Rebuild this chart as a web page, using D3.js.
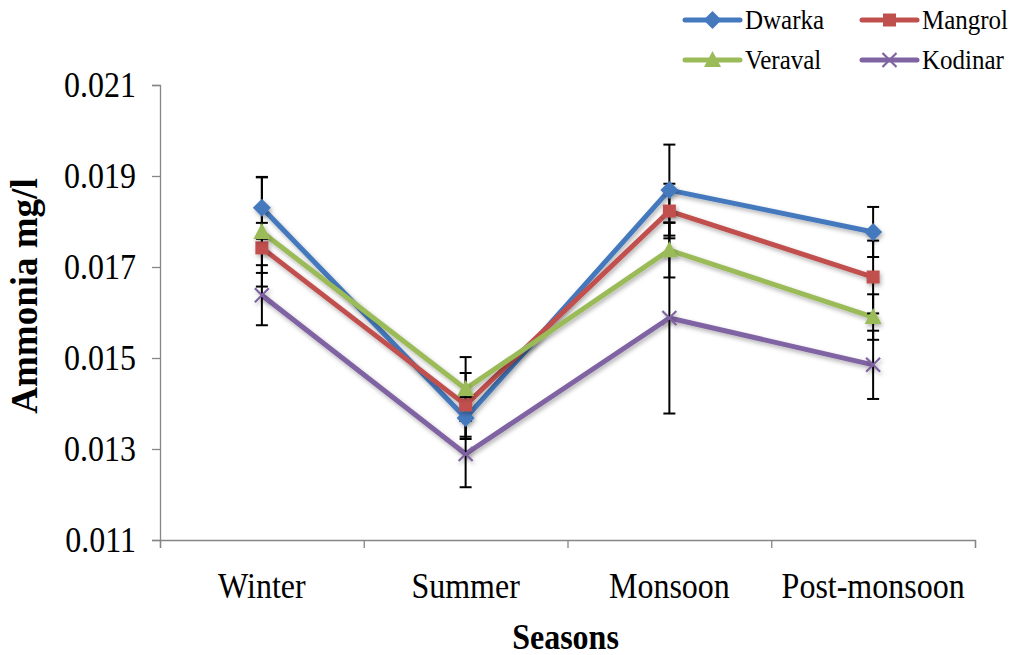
<!DOCTYPE html>
<html>
<head>
<meta charset="utf-8">
<script src="https://cdn.jsdelivr.net/npm/d3@7"></script>
<style>
  body { margin: 0; background: #fff; }
  svg { display: block; font-family: "Liberation Serif", "Times New Roman", serif; }
</style>
</head>
<body>
<div id="chart"></div>
<script>
// values
var seasons = ["Winter", "Summer", "Monsoon", "Post-monsoon"]
var yTicks = [0.011, 0.013, 0.015, 0.017, 0.019, 0.021]

var dwarka = [0.01830, 0.01368, 0.01869, 0.01777]
var mangrol = [0.01742, 0.01397, 0.01823, 0.01678]
var veraval = [0.01777, 0.01432, 0.01737, 0.01590]
var kodinar = [0.01638, 0.01289, 0.01588, 0.01485]

var dwarkaErr = [0.00068, 0.00046, 0.0010, 0.00055]
var mangrolErr = [0.00055, 0.0007, 0.0006, 0.0008]
var veravalErr = [0.0012, 0.0007, 0.0006, 0.0005]
var kodinarErr = [0.00066, 0.00073, 0.0021, 0.00075]

var series = [
  { name: "Dwarka", values: dwarka, err: dwarkaErr, color: "#4579BD", shape: "diamond" },
  { name: "Mangrol", values: mangrol, err: mangrolErr, color: "#C0504D", shape: "square" },
  { name: "Veraval", values: veraval, err: veravalErr, color: "#9BBB59", shape: "triangle" },
  { name: "Kodinar", values: kodinar, err: kodinarErr, color: "#8064A2", shape: "cross" }
]

var W = 1018, H = 655
var margin = { top: 85, right: 43, bottom: 115, left: 160 }
var serif = "Liberation Serif, Times New Roman, serif"
var stretch = "scale(1,1.1)"

var svg = d3.select("#chart").append("svg")
  .attr("width", W).attr("height", H)

var defs = svg.append("defs")
var f = defs.append("filter").attr("id", "shadow")
  .attr("x", "-50%").attr("y", "-50%").attr("width", "200%").attr("height", "200%")
f.append("feDropShadow").attr("dx", 1.5).attr("dy", 2.5).attr("stdDeviation", 2)
  .attr("flood-color", "#000").attr("flood-opacity", 0.3)

var x = d3.scaleBand().domain(seasons).range([margin.left, W - margin.right]).padding(0)
var y = d3.scaleLinear().domain([0.011, 0.021]).range([H - margin.bottom, margin.top])
var xEdge = d3.scaleLinear().domain([0, seasons.length]).range(x.range())

function cx(s) { return x(s) + x.bandwidth() / 2 }

// y axis
var yAxis = svg.append("g")
  .attr("transform", "translate(" + margin.left + ",0)")
  .call(d3.axisLeft(y).tickValues(yTicks).tickSize(8).tickPadding(16).tickFormat(d3.format(".3f")))
yAxis.select(".domain").attr("stroke", "#868686").attr("stroke-width", 1.3)
yAxis.selectAll(".tick line").attr("stroke", "#868686").attr("stroke-width", 1.3)
yAxis.selectAll(".tick text").attr("font-size", 32).attr("fill", "#000")
  .attr("font-family", serif).attr("transform", stretch)

// x axis: tick marks on band edges, labels at centres
var xTicks = svg.append("g")
  .attr("transform", "translate(0," + (H - margin.bottom) + ")")
  .call(d3.axisBottom(xEdge).tickValues(d3.range(seasons.length + 1)).tickSize(8).tickFormat(""))
xTicks.select(".domain").attr("stroke", "#868686").attr("stroke-width", 1.3)
xTicks.selectAll(".tick line").attr("stroke", "#868686").attr("stroke-width", 1.3)

var xLabels = svg.append("g")
  .attr("transform", "translate(0," + (H - margin.bottom) + ")")
  .call(d3.axisBottom(x).tickSize(0).tickPadding(30))
xLabels.select(".domain").remove()
xLabels.selectAll(".tick text").attr("font-size", 32).attr("fill", "#000")
  .attr("font-family", serif).attr("transform", stretch)

// axis titles
svg.append("text")
  .attr("transform", "translate(" + ((margin.left + W - margin.right) / 2 - 2) + ",649) " + stretch)
  .attr("text-anchor", "middle")
  .attr("font-size", 32).attr("font-weight", "bold")
  .text("Seasons")

svg.append("text")
  .attr("transform", "translate(37,296) rotate(-90)")
  .attr("text-anchor", "middle")
  .attr("font-size", 37).attr("font-weight", "bold")
  .text("Ammonia mg/l")

// marker drawing
function drawMarker(g, shape, color) {
  if (shape === "diamond") {
    g.append("path").attr("d", "M0,-9L9,0L0,9L-9,0Z").attr("fill", color)
  } else if (shape === "square") {
    g.append("rect").attr("x", -6.5).attr("y", -6.5).attr("width", 13).attr("height", 13).attr("fill", color)
  } else if (shape === "triangle") {
    g.append("path").attr("d", "M0,-9L8.5,7L-8.5,7Z").attr("fill", color)
  } else {
    g.append("path").attr("d", "M-7,-7L7,7M-7,7L7,-7").attr("stroke", color).attr("stroke-width", 2.2)
  }
}

var line = d3.line()
  .x(function (d, i) { return cx(seasons[i]) })
  .y(function (d) { return y(d) })

var plot = svg.append("g")

// lines
series.forEach(function (s) {
  plot.append("path")
    .datum(s.values)
    .attr("d", line)
    .attr("fill", "none")
    .attr("stroke", s.color)
    .attr("stroke-width", 5)
    .attr("stroke-linejoin", "round")
    .attr("filter", "url(#shadow)")
})

// error bars
var eb = plot.append("g").attr("stroke", "#000").attr("stroke-width", 2)
series.forEach(function (s) {
  s.values.forEach(function (v, i) {
    var px = cx(seasons[i])
    var y0 = y(v - s.err[i]), y1 = y(v + s.err[i])
    eb.append("line").attr("x1", px).attr("x2", px).attr("y1", y0).attr("y2", y1)
    eb.append("line").attr("x1", px - 6).attr("x2", px + 6).attr("y1", y0).attr("y2", y0)
    eb.append("line").attr("x1", px - 6).attr("x2", px + 6).attr("y1", y1).attr("y2", y1)
  })
})

// markers
series.forEach(function (s) {
  s.values.forEach(function (v, i) {
    var g = plot.append("g")
      .attr("transform", "translate(" + cx(seasons[i]) + "," + y(v) + ")")
      .attr("filter", "url(#shadow)")
    drawMarker(g, s.shape, s.color)
  })
})

// legend
var legendPos = [[685, 20], [862, 20], [685, 60], [862, 60]]
series.forEach(function (s, i) {
  var g = svg.append("g").attr("transform", "translate(" + legendPos[i][0] + "," + legendPos[i][1] + ")")
  g.append("line").attr("x1", 0).attr("x2", 55).attr("y1", 0).attr("y2", 0)
    .attr("stroke", s.color).attr("stroke-width", 5).attr("stroke-linecap", "round")
  var m = g.append("g").attr("transform", "translate(27.5,0)")
  drawMarker(m, s.shape, s.color)
  g.append("text").attr("transform", "translate(60,9) " + stretch)
    .attr("font-size", 25).attr("fill", "#000")
    .text(s.name)
})
</script>
</body>
</html>
